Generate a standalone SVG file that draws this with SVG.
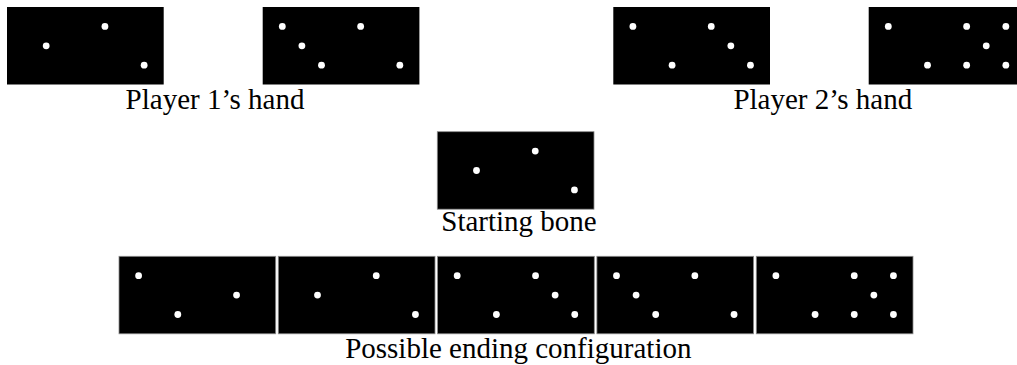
<svg xmlns="http://www.w3.org/2000/svg" xmlns:xlink="http://www.w3.org/1999/xlink" width="1017" height="365" viewBox="0 0 1017 365">
  <style>
    .tile { fill: #000; }
    .tile.edged { stroke: #8c8c8c; stroke-width: 0.8; }
    .pip { fill: #fff; }
    .label { font-family: "Liberation Serif", "Times New Roman", serif; font-size: 29px; fill: #000; text-anchor: middle; }
  </style>
  <defs>
    <circle id="pip" class="pip" r="3.4"/>
    <!-- pip faces for one half of a tile (half is 78.35 x 77.5) -->
    <g id="f1"><use xlink:href="#pip" x="39.2" y="38.8"/></g>
    <g id="f2"><use xlink:href="#pip" x="19.6" y="19.4"/><use xlink:href="#pip" x="58.8" y="58.2"/></g>
    <g id="f3"><use xlink:href="#pip" x="19.6" y="19.4"/><use xlink:href="#pip" x="39.2" y="38.8"/><use xlink:href="#pip" x="58.8" y="58.2"/></g>
    <g id="f5"><use xlink:href="#pip" x="19.6" y="19.4"/><use xlink:href="#pip" x="58.8" y="19.4"/><use xlink:href="#pip" x="39.2" y="38.8"/><use xlink:href="#pip" x="19.6" y="58.2"/><use xlink:href="#pip" x="58.8" y="58.2"/></g>
  </defs>
  <rect width="1017" height="365" fill="#fff"/>

  <!-- Player 1's hand -->
  <g id="p1-tile1" transform="translate(7,7)">
    <rect class="tile" width="156.7" height="77.5"/>
    <use xlink:href="#f1"/><use xlink:href="#f2" x="78.35"/>
  </g>
  <g id="p1-tile2" transform="translate(262.7,7)">
    <rect class="tile" width="156.7" height="77.5"/>
    <use xlink:href="#f3"/><use xlink:href="#f2" x="78.35"/>
  </g>
  <text id="p1-label" class="label" x="215" y="108.5">Player 1’s hand</text>

  <!-- Player 2's hand -->
  <g id="p2-tile1" transform="translate(613.3,7)">
    <rect class="tile" width="156.7" height="77.5"/>
    <use xlink:href="#f2"/><use xlink:href="#f3" x="78.35"/>
  </g>
  <g id="p2-tile2" transform="translate(868.7,7)">
    <rect class="tile" width="156.7" height="77.5"/>
    <use xlink:href="#f2"/><use xlink:href="#f5" x="78.35"/>
  </g>
  <text id="p2-label" class="label" x="822.8" y="108.5">Player 2’s hand</text>

  <!-- Starting bone -->
  <g id="start-tile" transform="translate(437.3,131.7)">
    <rect class="tile edged" width="156.7" height="77.5"/>
    <use xlink:href="#f1"/><use xlink:href="#f2" x="78.35"/>
  </g>
  <text id="start-label" class="label" x="519" y="231">Starting bone</text>

  <!-- Ending chain -->
  <g id="end-tile1" transform="translate(119,256.3)">
    <rect class="tile edged" width="156.7" height="77.5"/>
    <use xlink:href="#f2"/><use xlink:href="#f1" x="78.35"/>
  </g>
  <g id="end-tile2" transform="translate(278.3,256.3)">
    <rect class="tile edged" width="156.7" height="77.5"/>
    <use xlink:href="#f1"/><use xlink:href="#f2" x="78.35"/>
  </g>
  <g id="end-tile3" transform="translate(437.6,256.3)">
    <rect class="tile edged" width="156.7" height="77.5"/>
    <use xlink:href="#f2"/><use xlink:href="#f3" x="78.35"/>
  </g>
  <g id="end-tile4" transform="translate(596.9,256.3)">
    <rect class="tile edged" width="156.7" height="77.5"/>
    <use xlink:href="#f3"/><use xlink:href="#f2" x="78.35"/>
  </g>
  <g id="end-tile5" transform="translate(756.3,256.3)">
    <rect class="tile edged" width="156.7" height="77.5"/>
    <use xlink:href="#f2"/><use xlink:href="#f5" x="78.35"/>
  </g>
  <text id="end-label" class="label" x="518.3" y="358">Possible ending configuration</text>
</svg>
